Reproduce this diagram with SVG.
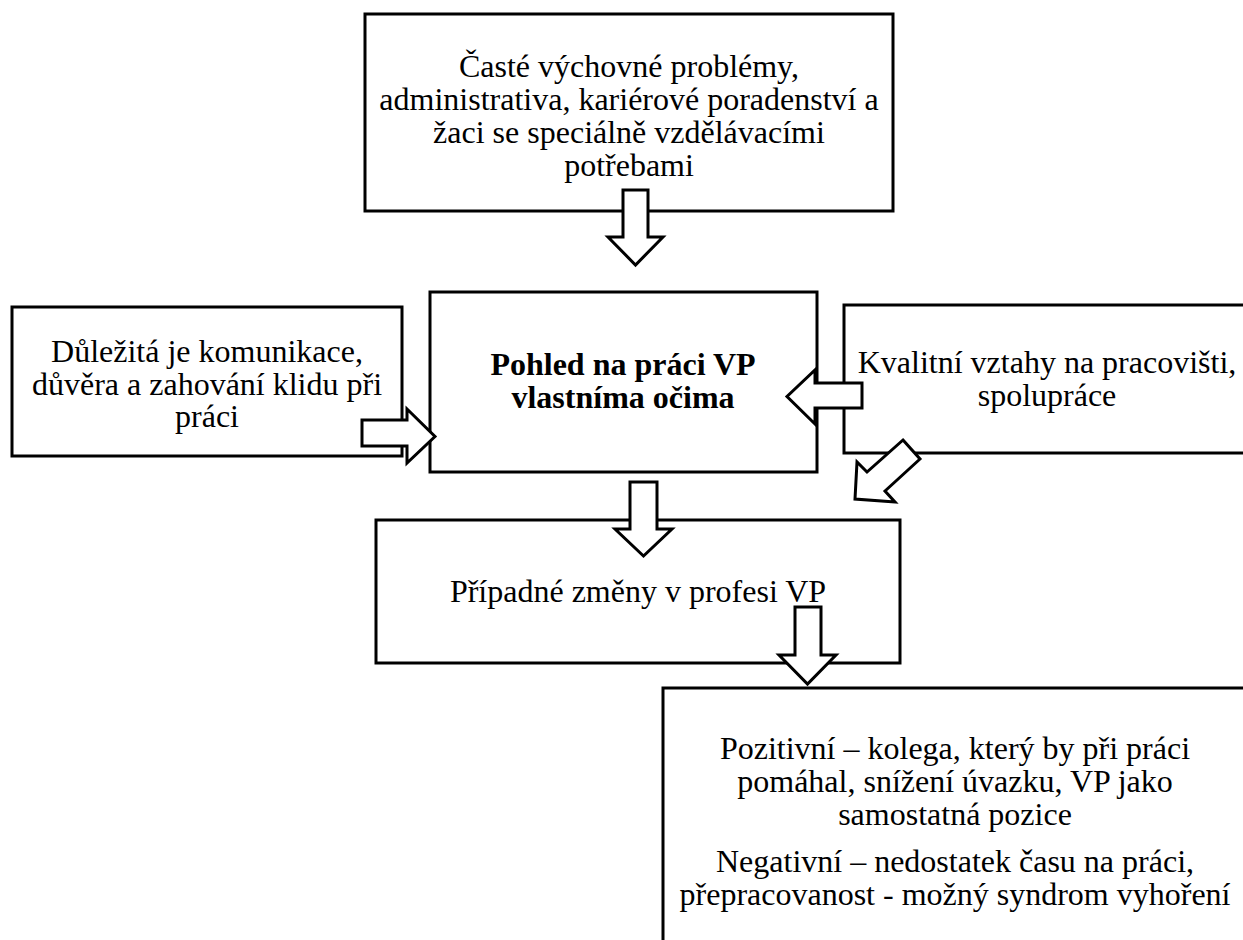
<svg xmlns="http://www.w3.org/2000/svg" width="1243" height="940" viewBox="0 0 1243 940">
<style>
.box{fill:#fff;stroke:#000;stroke-width:3}
.arr{fill:#fff;stroke:#000;stroke-width:3;stroke-linejoin:miter}
text{font-family:"Liberation Serif","Times New Roman",serif;font-size:32px;fill:#000;text-anchor:middle}
.b{font-weight:bold}
</style>
<rect width="1243" height="940" fill="#fff"/>
<g id="node-top">
<rect class="box" x="365" y="14" width="528" height="197"/>
<text x="629" y="77">Časté výchovné problémy,</text>
<text x="629" y="110">administrativa, kariérové poradenství a</text>
<text x="629" y="143">žaci se speciálně vzdělávacími</text>
<text x="629" y="176">potřebami</text>
</g>
<g id="node-left">
<rect class="box" x="12" y="307" width="390" height="149"/>
<text x="207" y="362">Důležitá je komunikace,</text>
<text x="207" y="394.5">důvěra a zahování klidu při</text>
<text x="207" y="427">práci</text>
</g>
<g id="node-center">
<rect class="box" x="430" y="292" width="387" height="180"/>
<text class="b" x="623" y="375">Pohled na práci VP</text>
<text class="b" x="623" y="408">vlastníma očima</text>
</g>
<g id="node-right">
<rect class="box" x="844" y="305" width="420" height="148"/>
<text x="1047" y="373">Kvalitní vztahy na pracovišti,</text>
<text x="1047" y="406">spolupráce</text>
</g>
<g id="node-middle">
<rect class="box" x="376" y="520" width="524" height="143"/>
<text x="638" y="602">Případné změny v profesi VP</text>
</g>
<g id="node-bottom">
<rect class="box" x="663" y="688" width="600" height="300"/>
<text x="955" y="759">Pozitivní – kolega, který by při práci</text>
<text x="955" y="792">pomáhal, snížení úvazku, VP jako</text>
<text x="955" y="825">samostatná pozice</text>
<text x="955" y="872">Negativní – nedostatek času na práci,</text>
<text x="955" y="905">přepracovanost - možný syndrom vyhoření</text>
</g>
<g id="connectors">
<polygon class="arr" points="623,190 648,190 648,237 663,237 635.5,265 608,237 623,237"/>
<polygon class="arr" points="362,420 407,420 407,409 435,436.5 407,463 407,446 362,446"/>
<polygon class="arr" points="862,383 815,383 815,370 787,396.5 815,424 815,408 862,408"/>
<polygon class="arr" points="903,440 920,459 885,491 895,502 855,499 857,462 867,472"/>
<polygon class="arr" points="630,482 657,482 657,529 672,529 643.5,556 615,529 630,529"/>
<polygon class="arr" points="795,607 821,607 821,655 836,655 807.5,684 779,655 795,655"/>
</g>
</svg>
